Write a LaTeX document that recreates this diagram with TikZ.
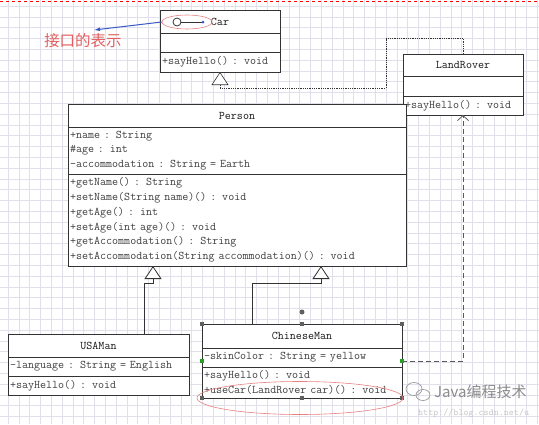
\documentclass[tikz,border=0pt]{standalone}
\usepackage{fontspec}
\newfontfamily\cjk{Noto Sans CJK SC}
\usetikzlibrary{arrows.meta,shapes.geometric}
\definecolor{gridcol}{RGB}{224,224,236}
\definecolor{notered}{RGB}{226,96,96}
\definecolor{noteblue}{RGB}{58,88,200}
\definecolor{handle}{RGB}{95,95,95}
\definecolor{handlegreen}{RGB}{40,160,40}
\newcommand\umlfont{\ttfamily\fontsize{11.7}{14.8}\selectfont}
\tikzset{
 part/.style={draw=black!80,fill=white,line width=.9pt,anchor=north west,outer sep=0pt,
  inner xsep=2pt,inner ysep=0pt,align=left,text width=#1,font=\umlfont,text=black!75},
 head/.style={part=#1,align=center,text=black!90},
 gen/.style={draw=black!80,line width=.8pt,-{Triangle[fill=white,length=13pt,width=17pt]}},
 realize/.style={gen,densely dotted,line width=.6pt},
 dep/.style={draw=black!65,line width=.8pt,dash pattern=on 5pt off 3pt,
  -{Straight Barb[length=5pt,width=11pt]}},
 ring/.style={ellipse,draw=notered!80,line width=.6pt,inner sep=0pt},
}
\begin{document}
\begin{tikzpicture}[x=1pt,y=-1pt]
\useasboundingbox (0,0) rectangle (539,424);
\fill[white] (0,0) rectangle (539,424);
% grid of the editor
\foreach \gx in {8,18.8,...,539} \draw[gridcol,line width=.5pt] (\gx,0) -- (\gx,424);
\foreach \gy in {6,16.8,...,424} \draw[gridcol,line width=.5pt] (0,\gy) -- (539,\gy);
\draw[red,dashed,line width=.6pt] (0,1.5) -- (539,1.5);

% Car
\node[head=116pt,minimum height=23pt] (car-t) at (160,10) {Car};
\node[part=116pt,minimum height=19pt] (car-a) at (car-t.south west) {};
\node[part=116pt,minimum height=20pt] (car-m) at (car-a.south west) {+sayHello() : void};
\node[circle,draw=black!80,fill=white,line width=.8pt,minimum size=8pt,inner sep=0pt] (car-ball) at (177,22) {};
\coordinate (car-stick) at (203,22);
\draw[black!80,line width=.8pt] (car-ball) -- (car-stick);
\fill[noteblue] (car-stick) circle[radius=1.5pt];

% LandRover
\node[head=116pt,minimum height=22pt] (lr-t) at (403,54) {LandRover};
\node[part=116pt,minimum height=20pt] (lr-a) at (lr-t.south west) {};
\node[part=116pt,minimum height=19pt] (lr-m) at (lr-a.south west) {+sayHello() : void};

% Person
\node[head=334pt,minimum height=23pt] (person-t) at (68,104) {Person};
\node[part=334pt,minimum height=47pt] (person-a) at (person-t.south west)
 {+name : String\\\#age : int\\-accommodation : String = Earth};
\node[part=334pt,minimum height=92pt] (person-m) at (person-a.south west)
 {+getName() : String\\+setName(String name)() : void\\+getAge() : int\\
  +setAge(int age)() : void\\+getAccommodation() : String\\
  +setAccommodation(String accommodation)() : void};

% USAMan
\node[head=177pt,minimum height=23pt] (usa-t) at (8,334) {USAMan};
\node[part=177pt,minimum height=19pt] (usa-a) at (usa-t.south west) {-language : String = English};
\node[part=177pt,minimum height=19pt] (usa-m) at (usa-a.south west) {+sayHello() : void};

% ChineseMan
\node[head=196pt,minimum height=24pt] (cm-t) at (202,324) {ChineseMan};
\node[part=196pt,minimum height=19pt] (cm-a) at (cm-t.south west) {-skinColor : String = yellow};
\node[part=196pt,minimum height=31pt] (cm-m) at (cm-a.south west)
 {+sayHello() : void\\+useCar(LandRover car)() : void};

% relations
\coordinate (usa-in) at (144,334);
\coordinate (person-in1) at (153,266);
\coordinate (cm-in) at (252,324);
\coordinate (person-in2) at (321,266);
\coordinate (cm-out) at (402,361);
\draw[gen] (usa-in) |- (153,283) -- (person-in1);
\draw[gen] (cm-in) |- (321,283) -- (person-in2);
\draw[realize] (lr-t.north) -- ++(0,-16) -| (386,88) -| (car-m.south);
\draw[dep] (cm-out) -| (lr-m.south);

% selection handles
\foreach \hx/\hy in {202/324,302/324,402/324,202/398,302/398,402/398}
 \fill[handle] (\hx-2,\hy-2) rectangle ++(4,4);
\foreach \hx/\hy in {202/361,402/361}
 \fill[handlegreen] (\hx-2,\hy-2) rectangle ++(4,4);
\fill[handle] (302,312) circle[radius=2.5pt];

% notes
\node[ring,minimum width=50pt,minimum height=14pt] (car-ring) at (187,22) {};
\node[text=notered,font=\cjk\fontsize{15.5}{18}\selectfont] (note) at (83,41) {接口的表示};
\coordinate (note-tip) at (94,30);
\draw[noteblue,line width=1pt,-{Latex[length=6pt,width=4pt]}] (car-ring.west) -- (note-tip);
\node[ring,minimum width=206pt,minimum height=33pt] (usecar-ring) at (300,398) {};

% watermark
\draw[black!40,line width=.7pt] (414,389) ellipse[x radius=8pt,y radius=6.5pt];
\draw[black!40,line width=.7pt] (423,395) ellipse[x radius=7pt,y radius=5.5pt];
\node[anchor=west,inner sep=0pt,text=black!45,font=\cjk\fontsize{15}{18}\selectfont] (wm) at (434,392) {Java编程技术};
\node[anchor=west,inner sep=0pt,text=black!22,font=\ttfamily\fontsize{9.6}{11}\selectfont] (wm-url) at (418,413) {http://blog.csdn.net/u};
\end{tikzpicture}
\end{document}
